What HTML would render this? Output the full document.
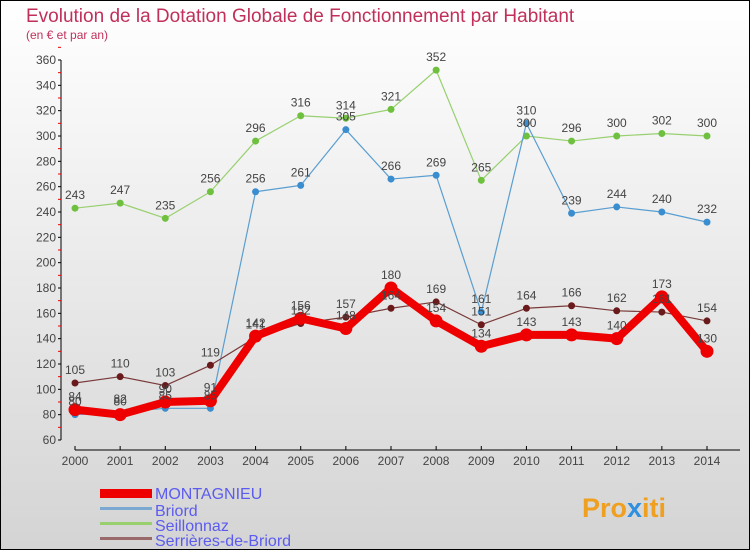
<!DOCTYPE html>
<html><head><meta charset="utf-8"><style>
body{margin:0}
#c{width:750px;height:550px;position:relative;overflow:hidden}
svg text{font-family:"Liberation Sans",sans-serif}
</style></head><body>
<div id="c">
<svg id="s" width="750" height="550" xmlns="http://www.w3.org/2000/svg">
<defs><linearGradient id="bg" x1="0" y1="0" x2="0" y2="1"><stop offset="0" stop-color="#ffffff"/><stop offset="1" stop-color="#d4d4d4"/></linearGradient></defs>
<rect x="0.5" y="0.5" width="749" height="549" fill="url(#bg)" stroke="#000"/>
<text x="26" y="22" font-size="19" fill="#c0305a">Evolution de la Dotation Globale de Fonctionnement par Habitant</text>
<text x="26" y="39" font-size="12" fill="#c0305a">(en € et par an)</text>
<g id="axes"></g><g id="series"></g><g id="labels"></g>
<g>
<rect x="100" y="489" width="52" height="9" fill="#e00"/>
<text x="155" y="499" font-size="16" fill="#5b5bf0">MONTAGNIEU</text>
<rect x="100" y="507" width="52" height="3" fill="#7aa8d0"/>
<text x="155" y="516" font-size="16" fill="#5b5bf0">Briord</text>
<rect x="100" y="522" width="52" height="3" fill="#98d070"/>
<text x="155" y="531" font-size="16" fill="#5b5bf0">Seillonnaz</text>
<rect x="100" y="537" width="52" height="3" fill="#9a6a6a"/>
<text x="155" y="546" font-size="16" fill="#5b5bf0">Serrières-de-Briord</text>
</g>
<text x="582" y="517" font-size="27" font-weight="bold" fill="#f0a020">Pro<tspan fill="#3090e0">x</tspan>iti</text>
</svg></div>
<script>
const years=[2000,2001,2002,2003,2004,2005,2006,2007,2008,2009,2010,2011,2012,2013,2014];
const montagnieu=[84,80,90,91,142,156,148,180,154,134,143,143,140,173,130];
const briord=[80,82,85,85,256,261,305,266,269,161,310,239,244,240,232];
const seillonnaz=[243,247,235,256,296,316,314,321,352,265,300,296,300,302,300];
const serrieres=[105,110,103,119,141,152,157,164,169,151,164,166,162,161,154];
const yTicks=[60,80,100,120,140,160,180,200,220,240,260,280,300,320,340,360];
const NS="http://www.w3.org/2000/svg";
const X=i=>75+i*(707-75)/(years.length-1);
const Y=v=>440-(v-60)*380/300;
function mk(t,a,p){const e=document.createElementNS(NS,t);for(const k in a)e.setAttribute(k,a[k]);p.appendChild(e);return e;}
const ax=document.getElementById('axes');
let yl=mk('line',{x1:61,y1:Y(360),x2:61,y2:Y(60),stroke:'#000'},ax);


yTicks.forEach(v=>{
 mk('line',{x1:58,x2:61,y1:Y(v),y2:Y(v),stroke:'#000'},ax);
 mk('line',{x1:58,x2:61,y1:Y(v+10),y2:Y(v+10),stroke:'#e00'},ax);
 const t=mk('text',{x:56,y:Y(v)+4,'font-size':12,fill:'#444','text-anchor':'end'},ax);t.textContent=v;
 
 
});
let xl=mk('line',{x1:75,y1:450,x2:740,y2:450,stroke:'#000'},ax);


years.forEach((y,i)=>{
 mk('line',{x1:X(i),x2:X(i),y1:446,y2:450,stroke:'#000'},ax);
 const t=mk('text',{x:X(i),y:465,'font-size':12,fill:'#444','text-anchor':'middle'},ax);t.textContent=y;
 
 
});
const sg=document.getElementById('series'),lg=document.getElementById('labels');
function draw(d,name,col,dot,w,r){
 const g=mk('g',{},sg);
 
 
 mk('polyline',{points:d.map((v,i)=>X(i)+','+Y(v)).join(' '),fill:'none',stroke:col,'stroke-width':w,'stroke-linejoin':'round'},g);
 d.forEach((v,i)=>{
  const c=mk('circle',{cx:X(i),cy:Y(v),r:r,fill:dot},g);
  
  
  const t=mk('text',{x:X(i),y:Y(v)-9,'font-size':12,fill:'#444','text-anchor':'middle'},lg);t.textContent=v;
  
  
 });
}
draw(seillonnaz,'seillonnaz','#98d070','#70c040',1.2,3.5);
draw(briord,'briord','#5a9ed0','#3a8ed0',1.2,3.5);
draw(serrieres,'serrieres','#7a3a3a','#6a1a1a',1.2,3.5);
draw(montagnieu,'montagnieu','#e00','#e00',8,6.5);
</script>
</body></html>
